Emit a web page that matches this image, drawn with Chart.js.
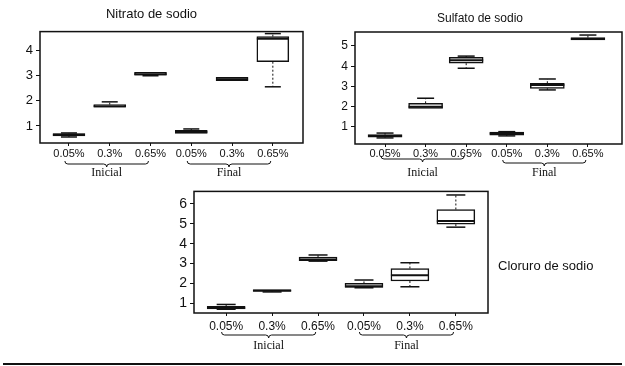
<!DOCTYPE html>
<html>
<head>
<meta charset="utf-8">
<title>Nitrato, sulfato y cloruro de sodio</title>
<script src="https://cdn.jsdelivr.net/npm/chart.js@4.4.1/dist/chart.umd.min.js"></script>
<style>
  body { margin: 0; background: #fff; }
  #page { position: relative; width: 625px; height: 366px; overflow: hidden; background: #fff; }
  canvas { position: absolute; }
  #rule { position: absolute; left: 3px; top: 363px; width: 619px; border-top: 2px solid #111; }
</style>
</head>
<body>
<div id="page">
  <canvas id="nitrato" width="310" height="185" style="left:0;top:0"></canvas>
  <canvas id="sulfato" width="287" height="185" style="left:338px;top:0"></canvas>
  <canvas id="cloruro" width="475" height="183" style="left:150px;top:180px"></canvas>
  <div id="rule"></div>
</div>
<script>
Chart.defaults.font.family = '"Liberation Sans", Arial, sans-serif';
Chart.defaults.color = "#111";

const doses = ["0.05%", "0.3%", "0.65%", "0.05%", "0.3%", "0.65%"];
const stages = ["Inicial", "Final"];
const stage_span = [[1, 3], [4, 6]];

// Nitrato de sodio
const nitrato_q1  = [0.60, 1.75, 3.02, 0.70, 2.80, 3.56];
const nitrato_q3  = [0.70, 1.85, 3.14, 0.82, 2.94, 4.56];
const nitrato_med = [0.65, 1.78, 3.06, 0.76, 2.86, 4.48];
const nitrato_lo  = [0.56, 1.75, 3.00, 0.68, 2.80, 2.56];
const nitrato_hi  = [0.72, 1.96, 3.14, 0.88, 2.94, 4.68];
const nitrato_ticks = [1, 2, 3, 4];

// Sulfato de sodio
const sulfato_q1  = [0.50, 1.92, 4.15, 0.60, 2.91, 5.30];
const sulfato_q3  = [0.62, 2.17, 4.44, 0.75, 3.16, 5.41];
const sulfato_med = [0.56, 2.00, 4.30, 0.68, 3.07, 5.35];
const sulfato_lo  = [0.46, 1.92, 3.90, 0.56, 2.83, 5.30];
const sulfato_hi  = [0.70, 2.42, 4.50, 0.77, 3.37, 5.54];
const sulfato_ticks = [1, 2, 3, 4, 5];

// Cloruro de sodio
const cloruro_q1  = [0.72, 1.60, 3.15, 1.80, 2.12, 4.98];
const cloruro_q3  = [0.84, 1.68, 3.32, 2.00, 2.75, 5.72];
const cloruro_med = [0.76, 1.64, 3.20, 1.86, 2.41, 5.14];
const cloruro_lo  = [0.70, 1.57, 3.12, 1.78, 1.83, 4.83];
const cloruro_hi  = [0.94, 1.69, 3.43, 2.17, 3.04, 6.45];
const cloruro_ticks = [1, 2, 3, 4, 5, 6];

const ink = "#111";

// whiskers (dotted stems + caps) and medians, placed with the chart scales
function boxPlot(s) {
  return {
    id: "boxPlot",
    afterDatasetsDraw(chart) {
      const {ctx, scales: {x, y}} = chart;
      const half = s.boxWidth / 2, cap = s.boxWidth * 0.25;
      ctx.save();
      ctx.strokeStyle = ink;
      s.med.forEach((m, i) => {
        const cx = x.getPixelForValue(i + 1);
        [[s.hi[i], s.q3[i]], [s.lo[i], s.q1[i]]].forEach(([end, edge]) => {
          if (Math.abs(end - edge) < 0.02) return;
          ctx.lineWidth = 1;
          ctx.setLineDash([2, 2]);
          ctx.beginPath();
          ctx.moveTo(cx, y.getPixelForValue(edge));
          ctx.lineTo(cx, y.getPixelForValue(end));
          ctx.stroke();
          ctx.setLineDash([]);
          ctx.lineWidth = 1.5;
          ctx.beginPath();
          ctx.moveTo(cx - cap, y.getPixelForValue(end));
          ctx.lineTo(cx + cap, y.getPixelForValue(end));
          ctx.stroke();
        });
        ctx.lineWidth = 2;
        ctx.beginPath();
        ctx.moveTo(cx - half, y.getPixelForValue(m));
        ctx.lineTo(cx + half, y.getPixelForValue(m));
        ctx.stroke();
      });
      ctx.restore();
    },
  };
}

function drawBrace(ctx, x1, x2, yy, h) {
  const xm = (x1 + x2) / 2;
  ctx.beginPath();
  ctx.moveTo(x1, yy - h);
  ctx.quadraticCurveTo(x1, yy, x1 + h, yy);
  ctx.lineTo(xm - h, yy);
  ctx.quadraticCurveTo(xm, yy, xm, yy + h);
  ctx.quadraticCurveTo(xm, yy, xm + h, yy);
  ctx.lineTo(x2 - h, yy);
  ctx.quadraticCurveTo(x2, yy, x2, yy - h);
  ctx.stroke();
}

// plot frame, Inicial/Final braces, side caption
function decor(s) {
  return {
    id: "decor",
    afterDraw(chart) {
      const {ctx, chartArea: a, scales: {x}} = chart;
      ctx.save();
      ctx.strokeStyle = ink;
      ctx.fillStyle = ink;
      ctx.lineWidth = 1.5;
      ctx.strokeRect(a.left, a.top, a.right - a.left, a.bottom - a.top);

      ctx.lineWidth = 1;
      ctx.font = '12px "Liberation Serif", "Times New Roman", serif';
      ctx.textAlign = "center";
      ctx.textBaseline = "middle";
      stages.forEach((name, k) => {
        const x1 = x.getPixelForValue(stage_span[k][0] - 0.1);
        const x2 = x.getPixelForValue(stage_span[k][1] - 0.05);
        drawBrace(ctx, x1, x2, a.bottom + s.braceY[k], 3);
        ctx.fillText(name, (x1 + x2) / 2, a.bottom + s.textY);
      });

      if (s.caption) {
        ctx.font = '13px "Liberation Sans", Arial, sans-serif';
        ctx.textAlign = "left";
        ctx.fillText(s.caption, a.right + 10, a.top + 75);
      }
      ctx.restore();
    },
  };
}

function make_chart(id, s) {
  return new Chart(document.getElementById(id), {
    type: "bar",
    data: {
      datasets: [{
        data: s.q1.map((v, i) => ({x: i + 1, y: [v, s.q3[i]]})),
        backgroundColor: "#fff",
        borderColor: ink,
        borderWidth: 1.5,
        borderSkipped: false,
        barThickness: s.boxWidth,
      }],
    },
    options: {
      responsive: false,
      animation: false,
      events: [],
      layout: {padding: s.padding},
      plugins: {
        legend: {display: false},
        tooltip: {enabled: false},
        title: s.title || {display: false},
      },
      scales: {
        x: {
          type: "linear",
          offset: false,
          min: s.xRange[0],
          max: s.xRange[1],
          afterBuildTicks: sc => { sc.ticks = doses.map((d, i) => ({value: i + 1})); },
          afterFit: sc => { sc.height = s.xHeight; },
          ticks: {
            callback: (v, i) => doses[i],
            autoSkip: false,
            maxRotation: 0,
            padding: s.xPad,
            font: {size: s.xFont},
            color: ink,
          },
          grid: {drawOnChartArea: false, offset: false, tickLength: 3, color: ink},
          border: {display: false},
        },
        y: {
          min: s.yRange[0],
          max: s.yRange[1],
          afterBuildTicks: sc => { sc.ticks = s.yTicks.map(v => ({value: v})); },
          afterFit: sc => { sc.width = s.yWidth; },
          ticks: {padding: 3, font: {size: s.yFont}, color: ink},
          grid: {drawOnChartArea: false, tickLength: 4, color: ink},
          border: {display: false},
        },
      },
    },
    plugins: [boxPlot(s), decor(s)],
  });
}

make_chart("nitrato", {
  q1: nitrato_q1, q3: nitrato_q3, med: nitrato_med, lo: nitrato_lo, hi: nitrato_hi,
  yTicks: nitrato_ticks, yRange: [0.32, 4.76], xRange: [0.29, 6.74],
  boxWidth: 32, yWidth: 40, xHeight: 42, xPad: 1, xFont: 11, yFont: 13,
  padding: {left: 0, right: 7, top: 0, bottom: 0},
  braceY: [21, 21], textY: 30,
  title: {
    display: true, text: "Nitrato de sodio", color: ink,
    font: {size: 13, weight: "normal"}, padding: {top: 7, bottom: 9},
  },
});

make_chart("sulfato", {
  q1: sulfato_q1, q3: sulfato_q3, med: sulfato_med, lo: sulfato_lo, hi: sulfato_hi,
  yTicks: sulfato_ticks, yRange: [0.16, 5.69], xRange: [0.26, 6.84],
  boxWidth: 34, yWidth: 17, xHeight: 41, xPad: 0, xFont: 11, yFont: 12,
  padding: {left: 0, right: 3, top: 0, bottom: 0},
  braceY: [15, 19], textY: 29,
  title: {
    display: true, text: "Sulfato de sodio", color: ink,
    font: {size: 12, weight: "normal"}, padding: {top: 11, bottom: 6.6},
  },
});

make_chart("cloruro", {
  q1: cloruro_q1, q3: cloruro_q3, med: cloruro_med, lo: cloruro_lo, hi: cloruro_hi,
  yTicks: cloruro_ticks, yRange: [0.51, 6.63], xRange: [0.30, 6.70],
  boxWidth: 38, yWidth: 44, xHeight: 50, xPad: 3, xFont: 12, yFont: 14,
  padding: {left: 0, right: 137, top: 7, bottom: 0},
  braceY: [22, 22], textY: 33,
  caption: "Cloruro de sodio",
});
</script>
</body>
</html>
